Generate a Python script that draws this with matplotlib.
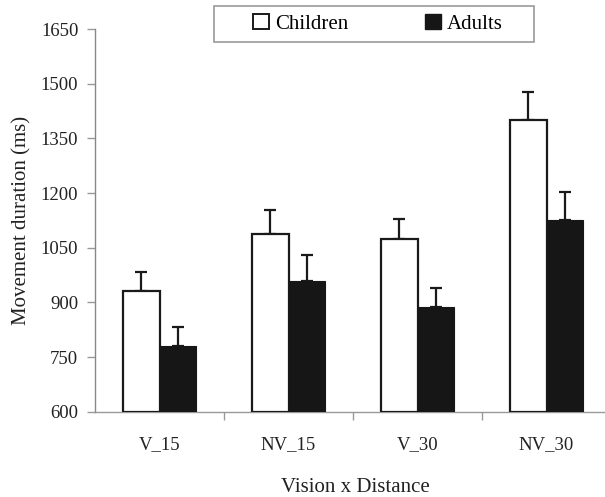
import matplotlib
matplotlib.use("Agg")
import matplotlib.pyplot as plt
from matplotlib.patches import Rectangle, Patch
import numpy as np

plt.rcParams['font.family'] = ['Liberation Serif', 'DejaVu Serif']

conditions = ["V_15", "NV_15", "V_30", "NV_30"]
children_mean = [932, 1088, 1074, 1400]
children_err = [52, 66, 56, 78]
adults_mean = [781, 958, 887, 1125]
adults_err = [52, 71, 52, 79]
y_ticks = [600, 750, 900, 1050, 1200, 1350, 1500, 1650]

W, H = 605, 497
fig = plt.figure(figsize=(W / 100, H / 100), dpi=100)
ax = fig.add_axes([95 / W, (H - 411.7) / H, 516 / W, 382.7 / H])

x = np.arange(len(conditions))
bw = 0.285
base = 600
err_kw = dict(ecolor="#1a1a1a", elinewidth=1.6, capsize=4.2, capthick=1.6)

ax.bar(x - bw / 2, np.array(children_mean) - base, bw, bottom=base,
       color="white", edgecolor="#1a1a1a", linewidth=1.6, zorder=3)
ax.bar(x + bw / 2, np.array(adults_mean) - base, bw, bottom=base,
       color="#161616", edgecolor="#161616", linewidth=0.8, zorder=3)
ax.errorbar(x - bw / 2, children_mean, yerr=[np.zeros(4), children_err],
            fmt="none", zorder=2, **err_kw)
ax.errorbar(x + bw / 2, adults_mean, yerr=[np.zeros(4), adults_err],
            fmt="none", zorder=2, **err_kw)

ax.set_xlim(-0.5, 3.5)
ax.set_ylim(600, 1650)
ax.set_yticks(y_ticks)
ax.set_yticklabels([str(v) for v in y_ticks], fontsize=13.5, color="#222222")
ax.tick_params(axis="y", direction="out", length=6, width=1, color="#999999", pad=6)

ax.set_xticks(x)
ax.set_xticklabels(conditions, fontsize=13.5, color="#222222")
ax.tick_params(axis="x", which="major", length=0, pad=17.5)
ax.set_xticks([0.5, 1.5, 2.5], minor=True)
ax.tick_params(axis="x", which="minor", direction="out", length=6, width=1, color="#999999")

for s in ["top", "right"]:
    ax.spines[s].set_visible(False)
ax.spines["left"].set_color("#888888")
ax.spines["left"].set_linewidth(1.0)
ax.spines["bottom"].set_color("#999999")
ax.spines["bottom"].set_linestyle((0, (1.5, 1)))
ax.spines["bottom"].set_linewidth(1.0)

ax.set_ylabel("Movement duration (ms)", fontsize=15, color="#222222")
ax.yaxis.set_label_coords(-64 / 516, 0.5)
fig.text(355 / W, 1 - 487 / H, "Vision x Distance", fontsize=15, color="#222222",
         ha="center", va="center")

# legend box along the top
fig.patches.append(Rectangle((214 / W, 1 - 42 / H), 320 / W, 36 / H,
                             transform=fig.transFigure, facecolor="white",
                             edgecolor="#999999", linewidth=1.2))
handles = [Patch(facecolor="white", edgecolor="#1a1a1a", linewidth=1.4, label="Children"),
           Patch(facecolor="#161616", edgecolor="#161616", linewidth=1.0, label="Adults")]
fig.legend(handles=handles, ncol=2, frameon=False, loc="center",
           bbox_to_anchor=(378 / W, 1 - 24 / H), fontsize=15,
           handlelength=0.75, handleheight=0.75, handletextpad=0.3,
           columnspacing=3.7)

fig.savefig("out.png", dpi=100)
